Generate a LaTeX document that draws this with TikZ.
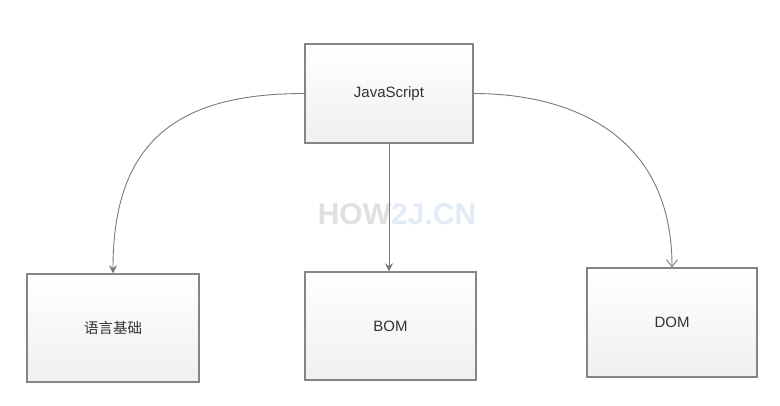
\documentclass[tikz,border=0pt]{standalone}
\usepackage{fontspec}
\setmainfont{Liberation Sans}
\newfontfamily\cjk{Noto Sans CJK SC}
\usetikzlibrary{arrows.meta}
\definecolor{boxline}{HTML}{858585}
\definecolor{wmgray}{HTML}{E0E0E0}
\definecolor{wmblue}{HTML}{E2EBF6}
\definecolor{linkc}{HTML}{7A7A7A}
\tikzset{
  box/.style={draw=boxline, line width=1.3pt, top color=white, bottom color=black!6,
    inner sep=0pt, font=\fontsize{15}{18}\selectfont, text=black!80},
  link/.style={draw=linkc, line width=0.9pt},
  tipfill/.style={-{Stealth[length=8pt,width=8pt]}},
  tipopen/.style={-{Straight Barb[length=7pt,width=11pt]}}
}
\begin{document}
\begin{tikzpicture}[x=1pt,y=-1pt]
\useasboundingbox[fill=white] (0,0) rectangle (780,405);
\node[font=\bfseries\fontsize{30}{34}\selectfont, inner sep=0pt] (wm) at (397,214)
  {\textcolor{wmgray}{HOW}\textcolor{wmblue}{2J.CN}};
\node[box, minimum width=168pt, minimum height=99pt] (js) at (389,93.5) {JavaScript};
\node[box, minimum width=172pt, minimum height=108pt] (lang) at (113,328) {\cjk\fontsize{14.5}{17}\selectfont 语言基础};
\node[box, minimum width=171pt, minimum height=108pt] (bom) at (390.5,326) {BOM};
\node[box, minimum width=170pt, minimum height=109pt] (dom) at (672,322.5) {DOM};
\draw[link, tipfill] (js.west) .. controls +(-125,0) and +(0,-134) .. (lang.north);
\draw[link, tipfill] (js.south) -- (js.south |- bom.north);
\draw[link, tipopen] (js.east) .. controls +(97,0) and +(0,-133) .. (dom.north);
\end{tikzpicture}
\end{document}
